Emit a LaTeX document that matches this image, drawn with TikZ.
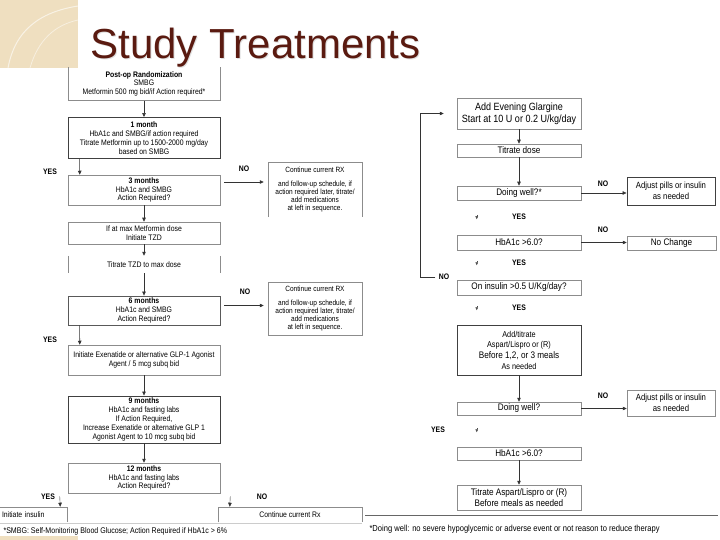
\documentclass[tikz,border=0pt]{standalone}
\usepackage{fontspec}
\setmainfont{Liberation Sans}
\newfontfamily\narrowsf[FakeStretch=0.86]{Liberation Sans}
\usetikzlibrary{arrows.meta}
\definecolor{titlebrown}{HTML}{5A1A10}
\definecolor{beige}{HTML}{EFDFC0}
\begin{document}
\begin{tikzpicture}
	[x=1pt,y=-1pt,
	box/.style={draw=black!45,line width=0.5pt,align=center,inner sep=0pt,font=\narrowsf\fontsize{8}{8.8}\selectfont},
	boxd/.style={box,draw=black!75,line width=0.9pt},
	lbox/.style={box,minimum width=152pt},
	rbox/.style={box,minimum width=124pt,font=\narrowsf\fontsize{9.5}{10.5}\selectfont},
	cbox/.style={box,minimum width=94pt,font=\narrowsf\fontsize{7.6}{8}\selectfont},
	side/.style={draw=black!45,line width=0.5pt},
	lbl/.style={font=\narrowsf\bfseries\fontsize{8}{9}\selectfont},
	arr/.style={-{Triangle[length=4pt,width=3.5pt]},draw=black!80,line width=0.6pt},
	smalltip/.style={-{Triangle[length=3pt,width=2.6pt]},draw=black!70,line width=0.4pt},
	note/.style={anchor=base west,font=\narrowsf\fontsize{8.2}{9}\selectfont}]
	\useasboundingbox (0,0) rectangle (720,540);
	\fill[beige] (0,0) rectangle (78,68);
	\draw[white,opacity=0.6,line width=1pt] (8,68) .. controls (15,30) and (40,12) .. (78,6);
	\draw[white,opacity=0.5,line width=0.8pt] (30,68) .. controls (38,40) and (55,25) .. (78,20);
	\fill[beige] (0,536) rectangle (78,540);
	\node[anchor=base west,font=\fontsize{42}{42}\selectfont,text=black!12] at (88,60) {Study Treatments};
	\node[anchor=base west,font=\fontsize{42}{42}\selectfont,text=titlebrown] (title) at (87,59) {Study Treatments};

	\node[lbox,draw=none,minimum height=33pt,font=\narrowsf\fontsize{8}{8.2}\selectfont] (rand) at (144,84) {\textbf{Post-op Randomization}\\SMBG\\[1pt]Metformin 500 mg bid/if Action required*};
	\draw[side] (rand.north west) -- (rand.south west) -- (rand.south east) -- (rand.north east);
	\node[boxd,minimum width=152pt,minimum height=41pt] (m1) at (144,138) {\textbf{1 month}\\HbA1c and SMBG/if action required\\Titrate Metformin up to 1500-2000 mg/day\\based on SMBG};
	\node[lbox,minimum height=30pt] (m3) at (144,190) {\textbf{3 months}\\HbA1c and SMBG\\Action Required?};
	\node[lbox,minimum height=22pt] (tzd) at (144,233) {If at max Metformin dose\\Initiate TZD};
	\node[lbox,draw=none,minimum height=17pt] (titr) at (144,264.5) {Titrate TZD to max dose};
	\draw[side] (titr.north west) -- (titr.south west) (titr.north east) -- (titr.south east);
	\node[lbox,draw=black!65,line width=0.8pt,minimum height=29pt] (m6) at (144,310.5) {\textbf{6 months}\\HbA1c and SMBG\\Action Required?};
	\node[lbox,minimum height=30pt] (glp) at (144,360) {Initiate Exenatide or alternative GLP-1 Agonist\\Agent / 5 mcg subq bid};
	\node[boxd,minimum width=152pt,minimum height=47pt] (m9) at (144,419.5) {\textbf{9 months}\\HbA1c and fasting labs\\If Action Required,\\Increase Exenatide or alternative GLP 1\\Agonist Agent to 10 mcg subq bid};
	\node[lbox,minimum height=30pt] (m12) at (144,478) {\textbf{12 months}\\HbA1c and fasting labs\\Action Required?};
	\node[box,draw=none,minimum width=67pt,minimum height=15pt,text width=63pt,align=left] (ins) at (33.5,514.5) {Initiate insulin};
	\draw[side] (ins.north west) -- (ins.north east) -- (ins.south east);
	\node[box,draw=none,minimum width=144pt,minimum height=15pt] (cont3) at (290,514.5) {Continue current Rx};
	\draw[side] (cont3.south west) -- (cont3.north west) -- (cont3.north east) -- (cont3.south east);
	\draw[black!20] (0,523) -- (362,523);

	\node[cbox,draw=none,minimum height=54pt] (cont1) at (315,190) {Continue current RX\\[6pt]and follow-up schedule, if\\action required later, titrate/\\add medications\\at left in sequence.};
	\draw[side] (cont1.south west) -- (cont1.north west) -- (cont1.north east) -- (cont1.south east);
	\node[cbox,minimum height=53pt] (cont2) at (315,308.5) {Continue current RX\\[6pt]and follow-up schedule, if\\action required later, titrate/\\add medications\\at left in sequence.};

	\node[lbl] (yes1) at (50,172) {YES};
	\node[lbl] (no1) at (244,169) {NO};
	\node[lbl] (no2) at (245,292) {NO};
	\node[lbl] (yes2) at (50,340) {YES};
	\node[lbl] (yes3) at (48,497) {YES};
	\node[lbl] (no3) at (262,497) {NO};

	\draw[arr] (rand) -- (m1);
	\draw[arr] ([xshift=12pt]m1.south west) -- ([xshift=12pt]m3.north west);
	\draw[arr,shorten >=4pt] ([shift={(4pt,8pt)}]m3.east) -- ([yshift=8pt]cont1.west |- m3.east);
	\draw[arr] (m3) -- (tzd);
	\draw[arr] (tzd) -- (titr);
	\draw[arr] (titr) -- (m6);
	\draw[arr,shorten >=4pt] ([shift={(4pt,5pt)}]m6.east) -- ([yshift=5pt]cont2.west |- m6.east);
	\draw[arr] ([xshift=12pt]m6.south west) -- ([xshift=12pt]glp.north west);
	\draw[arr] (glp) -- (m9);
	\draw[arr] (m9) -- (m12);
	\draw[arr,line width=0.4pt] ([shift={(-8pt,-3pt)}]m12.south west) -- ([xshift=-7pt]ins.north east);
	\draw[arr,line width=0.4pt] ([shift={(10pt,-3pt)}]m12.south east) -- ([xshift=12pt]cont3.north west);

	\node[rbox,minimum height=31pt,font=\narrowsf\fontsize{10.5}{12}\selectfont] (gla) at (519,113.5) {Add Evening Glargine\\Start at 10 U or 0.2 U/kg/day};
	\node[rbox,minimum height=13pt] (tdose) at (519,150.5) {Titrate dose};
	\node[rbox,minimum height=14pt] (well1) at (519,193) {Doing well?*};
	\node[boxd,minimum width=88pt,minimum height=28pt,font=\narrowsf\fontsize{9}{10.5}\selectfont] (adj1) at (671,191) {Adjust pills or insulin\\as needed};
	\node[rbox,minimum height=15pt] (hba1) at (519,242.5) {HbA1c >6.0?};
	\node[box,minimum width=89pt,minimum height=14pt,font=\narrowsf\fontsize{9.5}{10}\selectfont] (nochg) at (671.5,243) {No Change};
	\node[rbox,minimum height=15pt] (onins) at (519,287.5) {On insulin >0.5 U/Kg/day?};
	\node[boxd,minimum width=124pt,minimum height=50pt,font=\narrowsf\fontsize{8.5}{10}\selectfont] (addt) at (519,350) {Add/titrate\\Aspart/Lispro or (R)\\[1pt]{\fontsize{9.5}{11}\selectfont Before 1,2, or 3 meals}\\[1pt]As needed};
	\node[rbox,minimum height=13pt] (well2) at (519,408.5) {Doing well?};
	\node[box,minimum width=88pt,minimum height=26pt,font=\narrowsf\fontsize{9}{10.5}\selectfont] (adj2) at (671,403) {Adjust pills or insulin\\as needed};
	\node[rbox,minimum height=13pt] (hba2) at (519,453.5) {HbA1c >6.0?};
	\node[rbox,minimum height=25pt] (titasp) at (519,497.5) {Titrate Aspart/Lispro or (R)\\Before meals as needed};

	\node[lbl] (no5) at (603,184) {NO};
	\node[lbl] (yes5) at (519,217) {YES};
	\node[lbl] (no6) at (603,230) {NO};
	\node[lbl] (yes6) at (519,263) {YES};
	\node[lbl] (no4) at (444,277) {NO};
	\node[lbl] (yes7) at (519,308) {YES};
	\node[lbl] (no7) at (603,396) {NO};
	\node[lbl] (yes8) at (438,430) {YES};

	\draw[arr] (gla) -- (tdose);
	\draw[arr] (tdose) -- (well1);
	\draw[arr] (well1.east) -- (adj1.west |- well1.east);
	\draw[smalltip] ([shift={(20pt,-15pt)}]well1.south west) -- ++(0,4);
	\draw[arr] (hba1.east) -- (nochg.west |- hba1.east);
	\draw[smalltip] ([shift={(20pt,-11pt)}]hba1.south west) -- ++(0,4);
	\draw[arr,shorten >=13pt] (no4.west) -- ++(-15,0) |- (gla.west);
	\draw[smalltip] ([shift={(20pt,-11pt)}]onins.south west) -- ++(0,4);
	\draw[arr] (addt) -- (well2);
	\draw[arr] (well2.east) -- (adj2.west |- well2.east);
	\draw[smalltip] ([shift={(20pt,-13pt)}]well2.south west) -- ++(0,4);
	\draw[arr] (hba2) -- (titasp);

	\draw[black!60,line width=0.5pt] (365,515) -- (718,515);
	\node[note] (fn1) at (0,533) {*SMBG: Self-Monitoring Blood Glucose; Action Required if HbA1c > 6\%};
	\node[note,font=\narrowsf\fontsize{8.8}{10}\selectfont] (fn2) at (366,531) {*Doing well: no severe hypoglycemic or adverse event or not reason to reduce therapy};
\end{tikzpicture}
\end{document}
